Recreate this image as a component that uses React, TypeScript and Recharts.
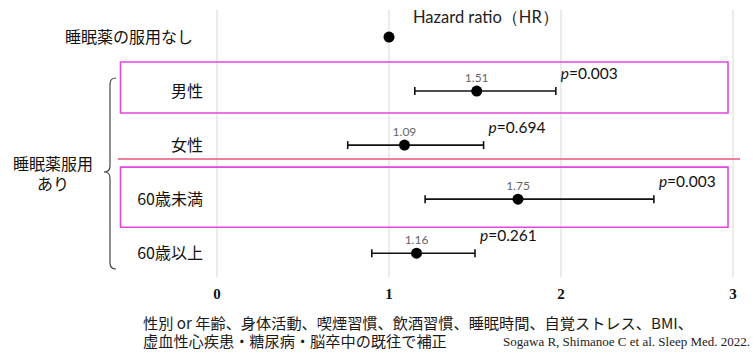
import React from 'react';
import {
  ScatterChart,
  Scatter,
  XAxis,
  YAxis,
  CartesianGrid,
  ErrorBar,
  LabelList,
  ReferenceArea,
  ReferenceLine,
} from 'recharts';

// rows from top to bottom
const rowLabels = ['睡眠薬の服用なし', '男性', '女性', '60歳未満', '60歳以上'];
const hazard = [1.0, 1.51, 1.09, 1.75, 1.16];
const ciLow = [1.0, 1.15, 0.76, 1.21, 0.9];
const ciHigh = [1.0, 1.97, 1.55, 2.54, 1.5];
const pValues = ['', '0.003', '0.694', '0.003', '0.261'];
const xTicks = [0, 1, 2, 3];

const refData = [{ row: 0, x: hazard[0] }];
const groupData = hazard.slice(1).map((hr, i) => ({
  row: i + 1,
  x: hr,
  err: [hr - ciLow[i + 1], ciHigh[i + 1] - hr],
  label: hr.toFixed(2),
}));
const pData = ciHigh.slice(1).map((hi, i) => ({
  row: i + 1,
  x: hi,
  p: pValues[i + 1],
}));

const jpFont = '"Noto Sans CJK JP", "Noto Sans", sans-serif';
const latinFont = 'Lato, "Noto Sans", sans-serif';

const Dot = (props: any) => <circle cx={props.cx} cy={props.cy} r={5.5} fill="#000" />;
const Nothing = () => <g />;

const center = (props: any) => {
  const vb = props.viewBox && props.viewBox.width != null ? props.viewBox : props;
  return { cx: vb.x + (vb.width || 0) / 2, cy: vb.y + (vb.height || 0) / 2 };
};

const ValueLabel = (props: any) => {
  const { cx, cy } = center(props);
  return (
    <text x={cx} y={cy - 9} textAnchor="middle" fill="#666" fontSize={12} fontFamily={latinFont}>
      {props.value}
    </text>
  );
};

const PLabel = (props: any) => {
  const { cx, cy } = center(props);
  return (
    <text x={cx + 5} y={cy - 12} fill="#111" fontSize={15.5} fontFamily={latinFont}>
      <tspan fontStyle="italic">p</tspan>={props.value}
    </text>
  );
};

const RowTick = (props: any) => {
  const { x, y, payload } = props;
  const idx = payload.value as number;
  return (
    <text
      x={x - (idx === 0 ? 24 : 14)}
      y={y}
      dy="0.35em"
      textAnchor="end"
      fill="#111"
      fontSize={16}
      fontFamily={jpFont}
    >
      {rowLabels[idx]}
    </text>
  );
};

const XTick = (props: any) => {
  const { x, y, payload } = props;
  return (
    <text
      x={x}
      y={y}
      dy={22}
      textAnchor="middle"
      fill="#111"
      fontSize={15}
      fontWeight={900}
      fontFamily='"Liberation Serif", serif'
    >
      {payload.value}
    </text>
  );
};

export default function App() {
  return (
    <div
      style={{
        position: 'absolute',
        left: 0,
        top: 0,
        width: 753,
        height: 353,
        background: '#fff',
        fontFamily: jpFont,
      }}
    >
      <ScatterChart width={753} height={353} margin={{ top: 10, right: 20, bottom: 46, left: 0 }}>
        <CartesianGrid horizontal={false} stroke="#d6d6d6" verticalValues={xTicks} />
        <XAxis
          type="number"
          dataKey="x"
          domain={[0, 3]}
          ticks={xTicks}
          axisLine={false}
          tickLine={false}
          tickSize={0}
          tickMargin={0}
          height={30}
          tick={<XTick />}
        />
        <YAxis
          type="number"
          dataKey="row"
          domain={[-0.5, 4.44]}
          ticks={[0, 1, 2, 3, 4]}
          reversed
          axisLine={false}
          tickLine={false}
          tickSize={0}
          tickMargin={0}
          width={217}
          tick={<RowTick />}
        />
        <ReferenceArea
          x1={-0.561}
          x2={2.971}
          y1={0.463}
          y2={1.407}
          fill="none"
          stroke="#e545e2"
          strokeWidth={1.6}
          ifOverflow="visible"
        />
        <ReferenceArea
          x1={-0.561}
          x2={2.971}
          y1={2.407}
          y2={3.52}
          fill="none"
          stroke="#e545e2"
          strokeWidth={1.6}
          ifOverflow="visible"
        />
        <ReferenceLine
          segment={[
            { x: -0.576, y: 2.259 },
            { x: 3.041, y: 2.259 },
          ]}
          stroke="#f0809a"
          strokeWidth={2}
          ifOverflow="visible"
        />
        <Scatter data={refData} shape={Dot} isAnimationActive={false} />
        <Scatter data={groupData} shape={Dot} isAnimationActive={false}>
          <ErrorBar
            dataKey="err"
            direction="x"
            width={4}
            stroke="#111"
            strokeWidth={1.6}
            isAnimationActive={false}
          />
          <LabelList dataKey="label" content={<ValueLabel />} />
        </Scatter>
        <Scatter data={pData} shape={Nothing} isAnimationActive={false}>
          <LabelList dataKey="p" content={<PLabel />} />
        </Scatter>
      </ScatterChart>

      <div
        style={{
          position: 'absolute',
          left: 413,
          top: 8,
          fontFamily: latinFont,
          fontSize: 16.5,
          lineHeight: '18px',
          color: '#222',
          whiteSpace: 'nowrap',
        }}
      >
        Hazard ratio（HR）
      </div>

      <div
        style={{
          position: 'absolute',
          left: 8,
          top: 153,
          width: 90,
          textAlign: 'center',
          fontSize: 16,
          lineHeight: '20px',
          color: '#111',
        }}
      >
        <div>睡眠薬服用</div>
        <div>あり</div>
      </div>

      <svg style={{ position: 'absolute', left: 0, top: 0 }} width={753} height={353}>
        <path
          d="M116,78 Q110,78 110,84 L110,166 Q110,172 104,172 Q110,172 110,178 L110,263 Q110,269 116,269"
          fill="none"
          stroke="#444"
          strokeWidth={1.2}
        />
      </svg>

      <div
        style={{
          position: 'absolute',
          left: 143,
          top: 313,
          fontSize: 15.2,
          lineHeight: '18px',
          color: '#1a1a1a',
          whiteSpace: 'nowrap',
        }}
      >
        <div>性別 or 年齢、身体活動、喫煙習慣、飲酒習慣、睡眠時間、自覚ストレス、BMI、</div>
        <div>虚血性心疾患・糖尿病・脳卒中の既往で補正</div>
      </div>

      <div
        style={{
          position: 'absolute',
          right: 3,
          top: 334,
          fontFamily: '"Liberation Serif", serif',
          fontSize: 13,
          lineHeight: '15px',
          color: '#222',
          whiteSpace: 'nowrap',
        }}
      >
        Sogawa R, Shimanoe C et al. Sleep Med. 2022.
      </div>
    </div>
  );
}
